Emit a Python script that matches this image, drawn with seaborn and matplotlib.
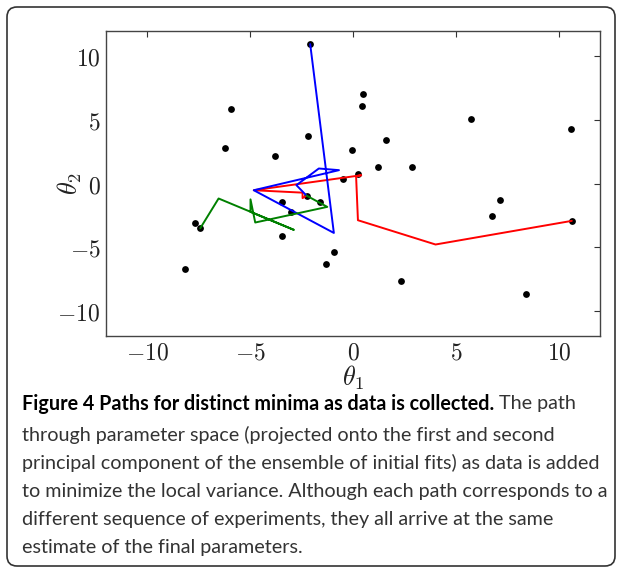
import numpy as np
import pandas as pd
import matplotlib
matplotlib.use("Agg")
import matplotlib.pyplot as plt
import seaborn as sns
from matplotlib.patches import FancyBboxPatch
from matplotlib.transforms import IdentityTransform

# ---- data ----
fit_x = [-2.08, -5.91, -6.23, -2.19, -3.78, -0.06, -0.50, 0.26, 0.47, 0.44,
         5.75, 10.57, 1.59, 1.23, 2.87, 7.14, 6.77, 10.63, -7.70, -7.42,
         -8.18, -3.44, -3.47, -2.99, -1.61, -2.24, -0.93, -1.30, 2.34, 8.39]
fit_y = [10.97, 5.87, 2.83, 3.72, 2.15, 2.60, 0.39, 0.71, 7.03, 6.09,
         5.09, 4.25, 3.43, 1.26, 1.31, -1.26, -2.57, -2.94, -3.07, -3.52,
         -6.69, -1.45, -4.12, -2.23, -1.47, -0.97, -5.38, -6.30, -7.69, -8.66]

red_x = [10.63, 4.01, 0.24, 0.15, 0.40, -4.82, -2.45, -2.45, -2.26]
red_y = [-2.94, -4.80, -2.89, 0.57, 0.65, -0.53, -0.72, -1.15, -0.95]

blue_x = [-2.08, -0.93, -4.82, -0.68, -1.66, -2.75, -2.26]
blue_y = [10.97, -3.89, -0.53, 1.05, 1.18, -0.13, -0.95]

green_x = [-7.42, -6.53, -2.87, -4.98, -4.98, -4.75, -1.25, -2.26]
green_y = [-3.52, -1.18, -3.65, -2.23, -1.25, -3.07, -1.84, -0.95]

x_ticks = [-10, -5, 0, 5, 10]
y_ticks = [-10, -5, 0, 5, 10]
x_label = r"$\theta_1$"
y_label = r"$\theta_2$"

caption_bold = "Figure 4 Paths for distinct minima as data is collected."
caption_first_rest = " The path"
caption_lines = [
    "through parameter space (projected onto the first and second",
    "principal component of the ensemble of initial fits) as data is added",
    "to minimize the local variance. Although each path corresponds to a",
    "different sequence of experiments, they all arrive at the same",
    "estimate of the final parameters.",
]

# ---- build tables ----
paths = pd.concat([
    pd.DataFrame({"x": red_x, "y": red_y, "path": "red"}),
    pd.DataFrame({"x": blue_x, "y": blue_y, "path": "blue"}),
    pd.DataFrame({"x": green_x, "y": green_y, "path": "green"}),
], ignore_index=True)

sns.set_theme(style="white")
plt.rcParams["mathtext.fontset"] = "cm"

W, H = 622, 571
fig = plt.figure(figsize=(W / 100, H / 100), dpi=100)
fig.patch.set_facecolor("white")

ax_l, ax_r, ax_t, ax_b = 106, 600, 31, 336
ax = fig.add_axes([ax_l / W, 1 - ax_b / H, (ax_r - ax_l) / W, (ax_b - ax_t) / H])

sns.scatterplot(x=fit_x, y=fit_y, color="black", s=24, linewidth=0, ax=ax, zorder=2)
sns.lineplot(data=paths, x="x", y="y", hue="path",
             palette={"red": "#ff0000", "blue": "#0000ff", "green": "#008000"},
             sort=False, estimator=None, legend=False, linewidth=1.4, ax=ax, zorder=3)

ax.set_xlim(-12, 12)
ax.set_ylim(-12, 12)
ax.set_xticks(x_ticks, labels=[f"${v}$" for v in x_ticks])
ax.set_yticks(y_ticks, labels=[f"${v}$" for v in y_ticks])
ax.tick_params(direction="in", length=4, width=0.8, top=True, right=True,
               colors="#333333", labelcolor="#222222", labelsize=17, pad=4)
ax.tick_params(axis="x", pad=3)
for sp in ax.spines.values():
    sp.set_visible(True)
    sp.set_color("#444444")
    sp.set_linewidth(1.0)
ax.set_xlabel(x_label, fontsize=19, color="#222222")
ax.set_ylabel(y_label, fontsize=19, color="#222222")
ax.xaxis.label.set_va("center")
ax.yaxis.label.set_va("center")
ax.xaxis.set_label_coords(0.5, -(378 - ax_b) / (ax_b - ax_t))
ax.yaxis.set_label_coords(-(ax_l - 70) / (ax_r - ax_l), 0.5)
ax.grid(False)

# ---- rounded frame ----
frame = FancyBboxPatch((7, H - 566), 608, 559, boxstyle="round,pad=0,rounding_size=10",
                       transform=IdentityTransform(), facecolor="none",
                       edgecolor="#333333", linewidth=1.2)
fig.patches.append(frame)

# ---- caption ----
fam = ["Lato", "DejaVu Sans"]
fig.canvas.draw()
r = fig.canvas.get_renderer()
probe = fig.text(0, 0, caption_lines[1], fontsize=14, family=fam)
pw = probe.get_window_extent(r).width
probe.remove()
fs = 14 * 580 / pw

x0 = 22 / W
ys = [404, 435, 463, 491, 519, 548]
tb = fig.text(x0, 1 - ys[0] / H, caption_bold, fontsize=fs, family=fam,
              weight="bold", color="black", va="center")
fig.canvas.draw()
bw = tb.get_window_extent(r).width
fig.text(x0 + bw / W, 1 - ys[0] / H, caption_first_rest, fontsize=fs, family=fam,
         color="#333333", va="center")
for line, yc in zip(caption_lines, ys[1:]):
    fig.text(x0, 1 - yc / H, line, fontsize=fs, family=fam, color="#333333", va="center")

fig.savefig("out.png", dpi=100, facecolor="white")
